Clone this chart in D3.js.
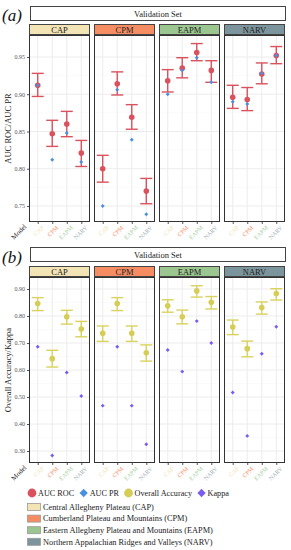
<!DOCTYPE html>
<html>
<head>
<meta charset="utf-8">
<script src="https://cdn.jsdelivr.net/npm/d3@7"></script>
<style>
  body { margin: 0; background: #fff; }
  text { font-family: "Liberation Serif", "DejaVu Serif", serif; }
</style>
</head>
<body>
<svg width="291" height="550"></svg>
<script>
// categories (facets and models)
var regions = ["CAP", "CPM", "EAPM", "NARV"];
var regionNames = ["Central Allegheny Plateau (CAP)", "Cumberland Plateau and Mountains (CPM)",
  "Eastern Allegheny Plateau and Mountains (EAPM)", "Northern Appalachian Ridges and Valleys (NARV)"];
var regionFill = ["#f3e4b6", "#f58c62", "#9cc690", "#7c949b"];
var labelColor = ["#f0e2b0", "#f5946e", "#a9cf9f", "#9aaeb5"];

// panel (a) values: rows = facet (validation region), cols = model
var aucRoc = [[0.912, 0.847, 0.860, 0.821], [0.800, 0.914, 0.869, 0.770], [0.918, 0.935, 0.956, 0.932], [0.896, 0.893, 0.927, 0.952]];
var aucRocLo = [[0.897, 0.830, 0.843, 0.803], [0.782, 0.899, 0.853, 0.753], [0.903, 0.922, 0.945, 0.916], [0.881, 0.878, 0.914, 0.941]];
var aucRocHi = [[0.928, 0.865, 0.877, 0.838], [0.818, 0.930, 0.886, 0.787], [0.933, 0.949, 0.968, 0.945], [0.912, 0.909, 0.942, 0.964]];
var aucPr = [[0.912, 0.812, 0.848, 0.809], [0.750, 0.906, 0.839, 0.739], [0.900, 0.932, 0.949, 0.916], [0.890, 0.887, 0.928, 0.952]];

// panel (b) values
var overallAcc = [[0.846, 0.642, 0.797, 0.752], [0.736, 0.846, 0.736, 0.664], [0.838, 0.797, 0.893, 0.851], [0.759, 0.679, 0.831, 0.883]];
var overallLo = [[0.820, 0.611, 0.770, 0.723], [0.706, 0.820, 0.706, 0.633], [0.814, 0.771, 0.870, 0.826], [0.731, 0.649, 0.807, 0.859]];
var overallHi = [[0.868, 0.673, 0.821, 0.780], [0.763, 0.868, 0.763, 0.693], [0.860, 0.822, 0.912, 0.872], [0.785, 0.707, 0.852, 0.901]];
var kappa = [[0.686, 0.283, 0.591, 0.504], [0.468, 0.686, 0.468, 0.325], [0.674, 0.594, 0.781, 0.700], [0.517, 0.356, 0.660, 0.760]];

var ticksA = [0.75, 0.80, 0.85, 0.90, 0.95];
var ticksB = [0.30, 0.40, 0.50, 0.60, 0.70, 0.80, 0.90];

var svg = d3.select("svg");
var panelW = 61, gap = 4, left = 29;

var fx = d3.scaleBand().domain(regions).range([left, left + 4 * panelW + 3 * gap]).paddingInner(gap / (panelW + gap));
var x = d3.scalePoint().domain(regions).range([0, panelW]).padding(0.6);

var red = "#d9525e", blue = "#4a8fe2", yellow = "#d5cd55", yellowBar = "#d9d25f", purple = "#7b5cf0";

function drawPanel(cfg) {
  var g = svg.append("g");
  var y = d3.scaleLinear().domain(cfg.domain).range([cfg.bottom, cfg.top]);

  // tag label
  g.append("text").attr("x", 2).attr("y", cfg.tagY).attr("font-size", 17)
    .attr("font-style", "italic").attr("fill", "#111").text(cfg.tag);

  // top strip
  g.append("rect").attr("x", 30.5).attr("y", cfg.stripTop + 0.5).attr("width", 255).attr("height", 14)
    .attr("fill", "#fff").attr("stroke", "#444");
  g.append("text").attr("x", 158).attr("y", cfg.stripTop + 11).attr("text-anchor", "middle")
    .attr("font-size", 8.5).attr("fill", "#222").text("Validation Set");

  // y axis title
  g.append("text").attr("transform", "translate(10.5," + ((cfg.top + cfg.bottom) / 2) + ") rotate(-90)")
    .attr("text-anchor", "middle").attr("font-size", 8.5).attr("fill", "#222").text(cfg.ytitle);

  // y axis
  var yAxis = d3.axisLeft(y).tickValues(cfg.ticks).tickFormat(d3.format(".2f")).tickSize(2).tickPadding(2);
  var ya = g.append("g").attr("transform", "translate(" + left + ",0)").call(yAxis);
  ya.select(".domain").remove();
  ya.selectAll("text").attr("font-size", 6).attr("fill", "#555").style("font-family", "Liberation Serif, serif");
  ya.selectAll("line").attr("stroke", "#555");

  // "Model" label
  g.append("text").attr("transform", "translate(27," + (cfg.bottom + 5) + ") rotate(-45)")
    .attr("text-anchor", "end").attr("font-size", 7).attr("fill", "#222").text("Model");

  regions.forEach(function(r, i) {
    var px = fx(r);
    var p = g.append("g").attr("transform", "translate(" + px + ",0)");

    // facet strip
    p.append("rect").attr("x", 0.5).attr("y", cfg.facetTop + 0.5).attr("width", panelW - 1)
      .attr("height", cfg.top - cfg.facetTop - 1).attr("fill", regionFill[i]).attr("stroke", "#444");
    p.append("text").attr("x", panelW / 2).attr("y", cfg.top - 2.3).attr("text-anchor", "middle")
      .attr("font-size", 8.5).attr("fill", "#222").text(r);

    // grid
    var minor = d3.range(cfg.ticks.length - 1).map(function(k) { return (cfg.ticks[k] + cfg.ticks[k + 1]) / 2; });
    minor.push(cfg.ticks[0] - (cfg.ticks[1] - cfg.ticks[0]) / 2);
    minor.push(cfg.ticks[cfg.ticks.length - 1] + (cfg.ticks[1] - cfg.ticks[0]) / 2);
    p.selectAll(".gmin").data(minor.filter(function(v) { return v > cfg.domain[0] && v < cfg.domain[1]; }))
      .enter().append("line").attr("x1", 0).attr("x2", panelW)
      .attr("y1", function(d) { return y(d); }).attr("y2", function(d) { return y(d); })
      .attr("stroke", "#f6f6f6").attr("stroke-width", 0.6);
    p.selectAll(".gmaj").data(cfg.ticks).enter().append("line").attr("x1", 0).attr("x2", panelW)
      .attr("y1", function(d) { return y(d); }).attr("y2", function(d) { return y(d); })
      .attr("stroke", "#ececec").attr("stroke-width", 1);
    p.selectAll(".gx").data(regions).enter().append("line")
      .attr("x1", function(d) { return x(d); }).attr("x2", function(d) { return x(d); })
      .attr("y1", cfg.top).attr("y2", cfg.bottom).attr("stroke", "#ececec").attr("stroke-width", 1);

    // x axis
    var xa = p.append("g").attr("transform", "translate(0," + cfg.bottom + ")")
      .call(d3.axisBottom(x).tickSize(2).tickPadding(2));
    xa.select(".domain").remove();
    xa.selectAll("line").attr("stroke", "#555");
    xa.selectAll("text").attr("font-size", 6).style("font-family", "Liberation Serif, serif")
      .attr("fill", function(d) { return labelColor[regions.indexOf(d)]; })
      .attr("text-anchor", "end").attr("dy", "0.3em")
      .attr("transform", "translate(2,2) rotate(-45)");

    // error bars
    var lo = cfg.lo[i], hi = cfg.hi[i];
    var eb = p.selectAll(".eb").data(regions).enter().append("g");
    eb.append("line").attr("x1", function(d) { return x(d); }).attr("x2", function(d) { return x(d); })
      .attr("y1", function(d, j) { return y(lo[j]); }).attr("y2", function(d, j) { return y(hi[j]); })
      .attr("stroke", cfg.barColor).attr("stroke-width", 1.4);
    [lo, hi].forEach(function(arr) {
      eb.append("line").attr("x1", function(d) { return x(d) - 6; }).attr("x2", function(d) { return x(d) + 6; })
        .attr("y1", function(d, j) { return y(arr[j]); }).attr("y2", function(d, j) { return y(arr[j]); })
        .attr("stroke", cfg.barColor).attr("stroke-width", 1.4);
    });

    // main points
    p.selectAll(".pt").data(cfg.main[i]).enter().append("circle")
      .attr("cx", function(d, j) { return x(regions[j]); }).attr("cy", function(d) { return y(d); })
      .attr("r", 2.8).attr("fill", cfg.mainColor);
    // secondary points (diamonds)
    p.selectAll(".dm").data(cfg.second[i]).enter().append("path")
      .attr("d", d3.symbol(d3.symbolDiamond2, 10))
      .attr("transform", function(d, j) { return "translate(" + x(regions[j]) + "," + y(d) + ")"; })
      .attr("fill", cfg.secondColor);

    // border
    p.append("rect").attr("x", 0.5).attr("y", cfg.top + 0.5).attr("width", panelW - 1)
      .attr("height", cfg.bottom - cfg.top - 1).attr("fill", "none").attr("stroke", "#333").attr("stroke-width", 1);
  });
}

drawPanel({
  tag: "(a)", tagY: 21, stripTop: 6, facetTop: 24, top: 35, bottom: 222,
  domain: [0.7285, 0.9795], ticks: ticksA, ytitle: "AUC ROC/AUC PR",
  main: aucRoc, lo: aucRocLo, hi: aucRocHi, second: aucPr,
  mainColor: red, barColor: red, secondColor: blue
});

drawPanel({
  tag: "(b)", tagY: 263, stripTop: 247, facetTop: 266, top: 277, bottom: 463,
  domain: [0.2556, 0.9444], ticks: ticksB, ytitle: "Overall Accuracy/Kappa",
  main: overallAcc, lo: overallLo, hi: overallHi, second: kappa,
  mainColor: yellow, barColor: yellowBar, secondColor: purple
});

// legend: points, laid out one after another
var ptLegend = [
  { label: "AUC ROC", color: red, shape: "circle" },
  { label: "AUC PR", color: blue, shape: "diamond" },
  { label: "Overall Accuracy", color: yellow, shape: "circle" },
  { label: "Kappa", color: purple, shape: "diamond" }
];
var lg = svg.append("g").attr("transform", "translate(0,493)");
var cx = 32;
ptLegend.forEach(function(d) {
  if (d.shape === "circle") {
    lg.append("circle").attr("cx", cx).attr("cy", 0).attr("r", 4.4).attr("fill", d.color);
  } else {
    lg.append("path").attr("d", d3.symbol(d3.symbolDiamond2, 44)).attr("transform", "translate(" + cx + ",0)").attr("fill", d.color);
  }
  var t = lg.append("text").attr("x", cx + 6).attr("y", 2.8).attr("font-size", 8.2).attr("fill", "#222").text(d.label);
  cx = cx + 6 + t.node().getComputedTextLength() + 9.5;
});

// legend: region fills
var fl = svg.append("g");
regionNames.forEach(function(n, i) {
  var yy = 503 + i * 11.6;
  fl.append("rect").attr("x", 27.5).attr("y", yy + 0.5).attr("width", 13).attr("height", 7)
    .attr("fill", regionFill[i]).attr("stroke", "#999").attr("stroke-width", 0.8);
  fl.append("text").attr("x", 43).attr("y", yy + 6.8).attr("font-size", 8.3).attr("fill", "#222").text(n);
});
</script>
</body>
</html>
